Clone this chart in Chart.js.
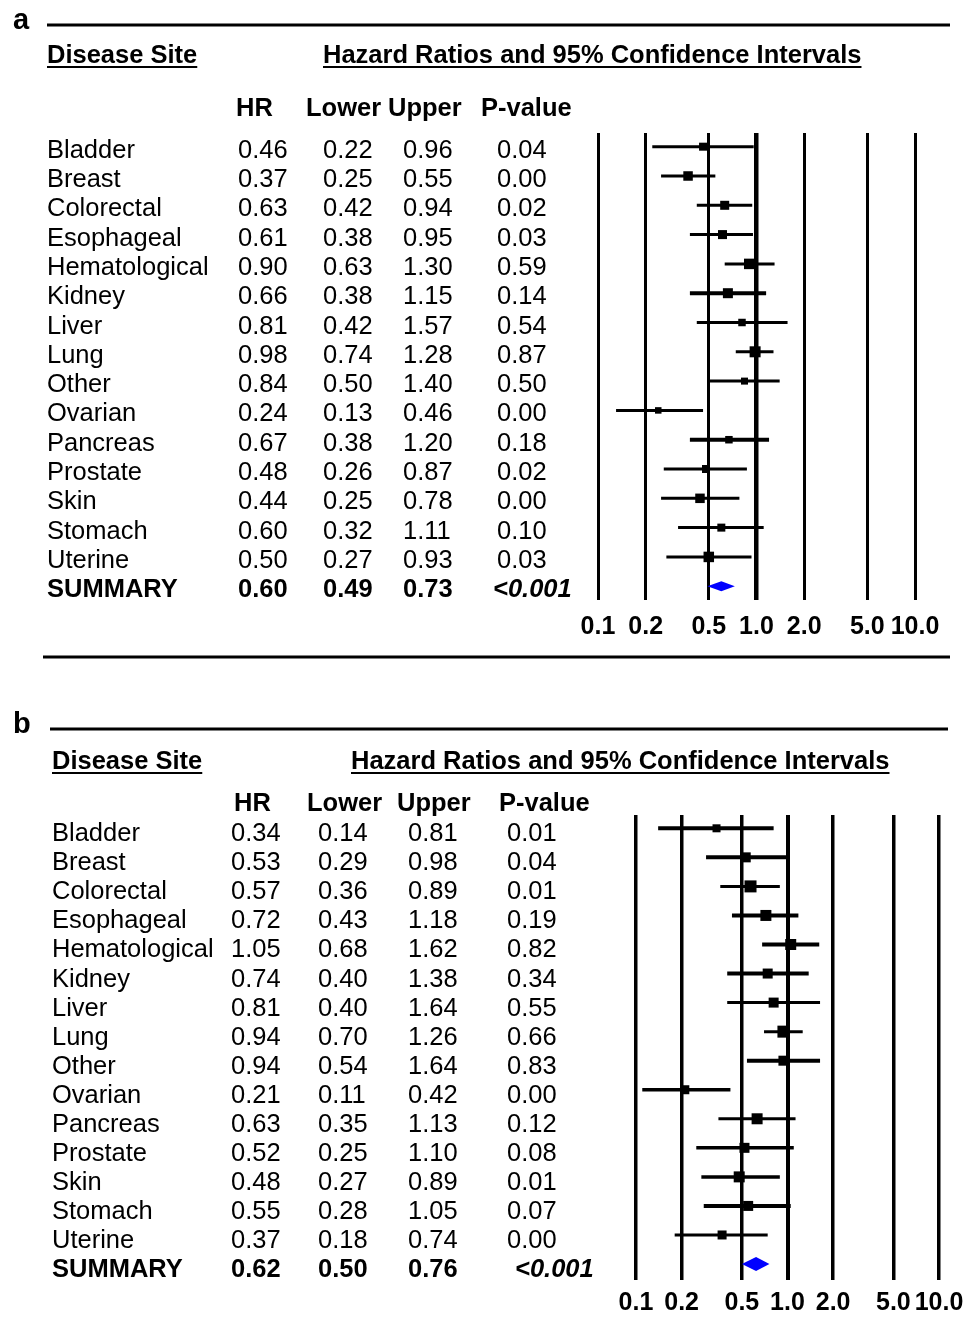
<!DOCTYPE html>
<html>
<head>
<meta charset="utf-8">
<script src="https://cdn.jsdelivr.net/npm/chart.js@4.4.1/dist/chart.umd.min.js"></script>
<style>
  html, body { margin: 0; padding: 0; background: #fff; overflow: hidden; }
  canvas { position: absolute; left: 0; }
  #chartA { top: 0; }
  #chartB { top: 676px; }
</style>
</head>
<body>
<canvas id="chartA" width="979" height="680"></canvas>
<canvas id="chartB" width="979" height="650"></canvas>
<script>
const sites = ['Bladder', 'Breast', 'Colorectal', 'Esophageal', 'Hematological', 'Kidney', 'Liver', 'Lung',
  'Other', 'Ovarian', 'Pancreas', 'Prostate', 'Skin', 'Stomach', 'Uterine']
const tickValues = [0.1, 0.2, 0.5, 1, 2, 5, 10]
const tickLabels = ['0.1', '0.2', '0.5', '1.0', '2.0', '5.0', '10.0']

// panel a
const hrA = [0.46, 0.37, 0.63, 0.61, 0.90, 0.66, 0.81, 0.98, 0.84, 0.24, 0.67, 0.48, 0.44, 0.60, 0.50]
const lowerA = [0.22, 0.25, 0.42, 0.38, 0.63, 0.38, 0.42, 0.74, 0.50, 0.13, 0.38, 0.26, 0.25, 0.32, 0.27]
const upperA = [0.96, 0.55, 0.94, 0.95, 1.30, 1.15, 1.57, 1.28, 1.40, 0.46, 1.20, 0.87, 0.78, 1.11, 0.93]
const pA = ['0.04', '0.00', '0.02', '0.03', '0.59', '0.14', '0.54', '0.87', '0.50', '0.00', '0.18', '0.02', '0.00', '0.10', '0.03']
const summaryA = [0.60, 0.49, 0.73]   // HR, lower, upper
const summaryPA = '<0.001'

// panel b
const hrB = [0.34, 0.53, 0.57, 0.72, 1.05, 0.74, 0.81, 0.94, 0.94, 0.21, 0.63, 0.52, 0.48, 0.55, 0.37]
const lowerB = [0.14, 0.29, 0.36, 0.43, 0.68, 0.40, 0.40, 0.70, 0.54, 0.11, 0.35, 0.25, 0.27, 0.28, 0.18]
const upperB = [0.81, 0.98, 0.89, 1.18, 1.62, 1.38, 1.64, 1.26, 1.64, 0.42, 1.13, 1.10, 0.89, 1.05, 0.74]
const pB = ['0.01', '0.04', '0.01', '0.19', '0.82', '0.34', '0.55', '0.66', '0.83', '0.00', '0.12', '0.08', '0.01', '0.07', '0.00']
const summaryB = [0.62, 0.50, 0.76]
const summaryPB = '<0.001'

// marker box sides and CI line widths (px), styling only
const boxA = [8, 9.5, 9, 9, 10.5, 10, 7.5, 11, 7, 6.5, 7.5, 8, 9.5, 8, 10.5]
const boxB = [8, 10, 12, 11, 11, 10, 10, 12, 10, 9, 11, 10, 11, 10, 9]
const ciWidthA = [3, 3, 3, 3, 3, 4, 3, 3, 3, 3, 4, 3, 3, 3, 3]
const ciWidthB = [4, 4, 3, 4, 4, 4, 3, 3, 4, 3.5, 3, 3.5, 3.5, 4, 3]

const FAMILY = '"Liberation Sans", Arial, sans-serif'
const font = (size, style) => (style ? style + ' ' : '') + size + 'px ' + FAMILY

const tablePlugin = p => ({
    id: 'table',
    afterDatasetsDraw(chart) {
        const { ctx, scales: { x, y } } = chart
        // summary diamond
        const yc = y.getPixelForValue(sites.length)
        const xm = x.getPixelForValue(p.summary[0])
        const xl = x.getPixelForValue(p.summary[1])
        const xr = x.getPixelForValue(p.summary[2])
        ctx.save()
        ctx.fillStyle = '#0000ff'
        ctx.beginPath()
        ctx.moveTo(xl, yc)
        ctx.lineTo(xm, yc - p.diamondH)
        ctx.lineTo(xr, yc)
        ctx.lineTo(xm, yc + p.diamondH)
        ctx.closePath()
        ctx.fill()
        ctx.restore()
    },
    afterDraw(chart) {
        const { ctx, scales: { y } } = chart
        ctx.save()
        ctx.fillStyle = '#000'
        ctx.textAlign = 'left'
        ctx.textBaseline = 'alphabetic'

        ctx.font = font(29, 'bold')
        ctx.fillText(p.label, 13, p.labelY)

        // rules
        ctx.fillRect(p.ruleTop[0], p.ruleTop[2] - 1.5, p.ruleTop[1] - p.ruleTop[0], 3)
        if (p.ruleBottom) ctx.fillRect(p.ruleBottom[0], p.ruleBottom[2] - 1.5, p.ruleBottom[1] - p.ruleBottom[0], 3)

        // underlined headings
        ctx.font = font(25.5, 'bold')
        const underline = (txt, x0, yb) => {
            ctx.fillText(txt, x0, yb)
            ctx.fillRect(x0, yb + 3, ctx.measureText(txt).width, 2)
        }
        underline('Disease Site', p.cols[0], p.headY)
        underline('Hazard Ratios and 95% Confidence Intervals', p.titleX, p.headY)

        // column headers
        const heads = ['HR', 'Lower', 'Upper', 'P-value']
        heads.forEach((h, i) => ctx.fillText(h, p.headCols[i], p.colHeadY))

        // rows
        ctx.font = font(25.5)
        sites.forEach((s, i) => {
            const yb = y.getPixelForValue(i) + p.textDy
            ctx.fillText(s, p.cols[0], yb)
            ctx.fillText(p.hr[i].toFixed(2), p.cols[1], yb)
            ctx.fillText(p.lower[i].toFixed(2), p.cols[2], yb)
            ctx.fillText(p.upper[i].toFixed(2), p.cols[3], yb)
            ctx.fillText(p.pv[i], p.cols[4], yb)
        })

        // summary row
        const ys = y.getPixelForValue(sites.length) + p.textDy
        ctx.font = font(25.5, 'bold')
        ctx.fillText('SUMMARY', p.cols[0], ys)
        ctx.fillText(p.summary[0].toFixed(2), p.cols[1], ys)
        ctx.fillText(p.summary[1].toFixed(2), p.cols[2], ys)
        ctx.fillText(p.summary[2].toFixed(2), p.cols[3], ys)
        ctx.font = font(25.5, 'italic bold')
        ctx.fillText(p.summaryP, p.summaryPX, ys)
        ctx.restore()
    }
})

function forest(canvas, p) {
    const ciSets = sites.map((s, i) => ({
        label: s,
        data: [{ x: p.lower[i], y: i }, { x: p.upper[i], y: i }],
        showLine: true,
        borderColor: '#000',
        borderWidth: p.ciWidth[i],
        borderCapStyle: 'butt',
        pointRadius: 0,
    }))
    const hrSet = {
        label: 'HR',
        data: p.hr.map((v, i) => ({ x: v, y: i })),
        pointStyle: 'rect',
        pointRadius: p.box.map(b => b / Math.SQRT2),
        backgroundColor: '#000',
        borderWidth: 0,
    }

    return new Chart(canvas, {
        type: 'scatter',
        data: { datasets: [...ciSets, hrSet] },
        options: {
            responsive: false,
            animation: false,
            events: [],
            layout: { padding: p.padding },
            scales: {
                x: {
                    type: 'logarithmic',
                    min: 0.1,
                    max: 10,
                    afterBuildTicks: scale => {
                        scale.ticks = tickValues.map(v => ({ value: v }))
                    },
                    ticks: {
                        callback: (v, i) => tickLabels[i],
                        autoSkip: false,
                        maxRotation: 0,
                        color: '#000',
                        padding: p.tickPad,
                        font: { family: FAMILY, size: 25, weight: 'bold' },
                    },
                    grid: {
                        color: '#000',
                        lineWidth: c => (c.tick && c.tick.value === 1 ? p.gridOne : p.grid),
                        drawTicks: false,
                    },
                    border: { display: false },
                },
                y: {
                    type: 'linear',
                    display: false,
                    reverse: true,
                    min: p.ymin,
                    max: p.ymax,
                },
            },
            plugins: {
                legend: { display: false },
                tooltip: { enabled: false },
            },
        },
        plugins: [tablePlugin(p)],
    })
}

forest(document.getElementById('chartA'), {
    hr: hrA, lower: lowerA, upper: upperA, pv: pA, summary: summaryA, summaryP: summaryPA,
    box: boxA, ciWidth: ciWidthA,
    padding: { left: 598, right: 64, top: 133, bottom: 26 },
    tickPad: 12, ymin: -0.467, ymax: 15.47, grid: 3, gridOne: 4.5, diamondH: 5,
    label: 'a', labelY: 29,
    ruleTop: [47, 950, 25], ruleBottom: [43, 950, 657],
    headY: 63, titleX: 323, colHeadY: 116, textDy: 11,
    cols: [47, 238, 323, 403, 497], headCols: [236, 306, 388, 481], summaryPX: 493,
})

forest(document.getElementById('chartB'), {
    hr: hrB, lower: lowerB, upper: upperB, pv: pB, summary: summaryB, summaryP: summaryPB,
    box: boxB, ciWidth: ciWidthB,
    padding: { left: 636, right: 40, top: 139, bottom: 0 },
    tickPad: 8, ymin: -0.458, ymax: 15.55, grid: 3.5, gridOne: 4, diamondH: 7,
    label: 'b', labelY: 57,
    ruleTop: [50, 948, 53], ruleBottom: null,
    headY: 93, titleX: 351, colHeadY: 135, textDy: 13,
    cols: [52, 231, 318, 408, 507], headCols: [234, 307, 397, 499], summaryPX: 515,
})
</script>
</body>
</html>
